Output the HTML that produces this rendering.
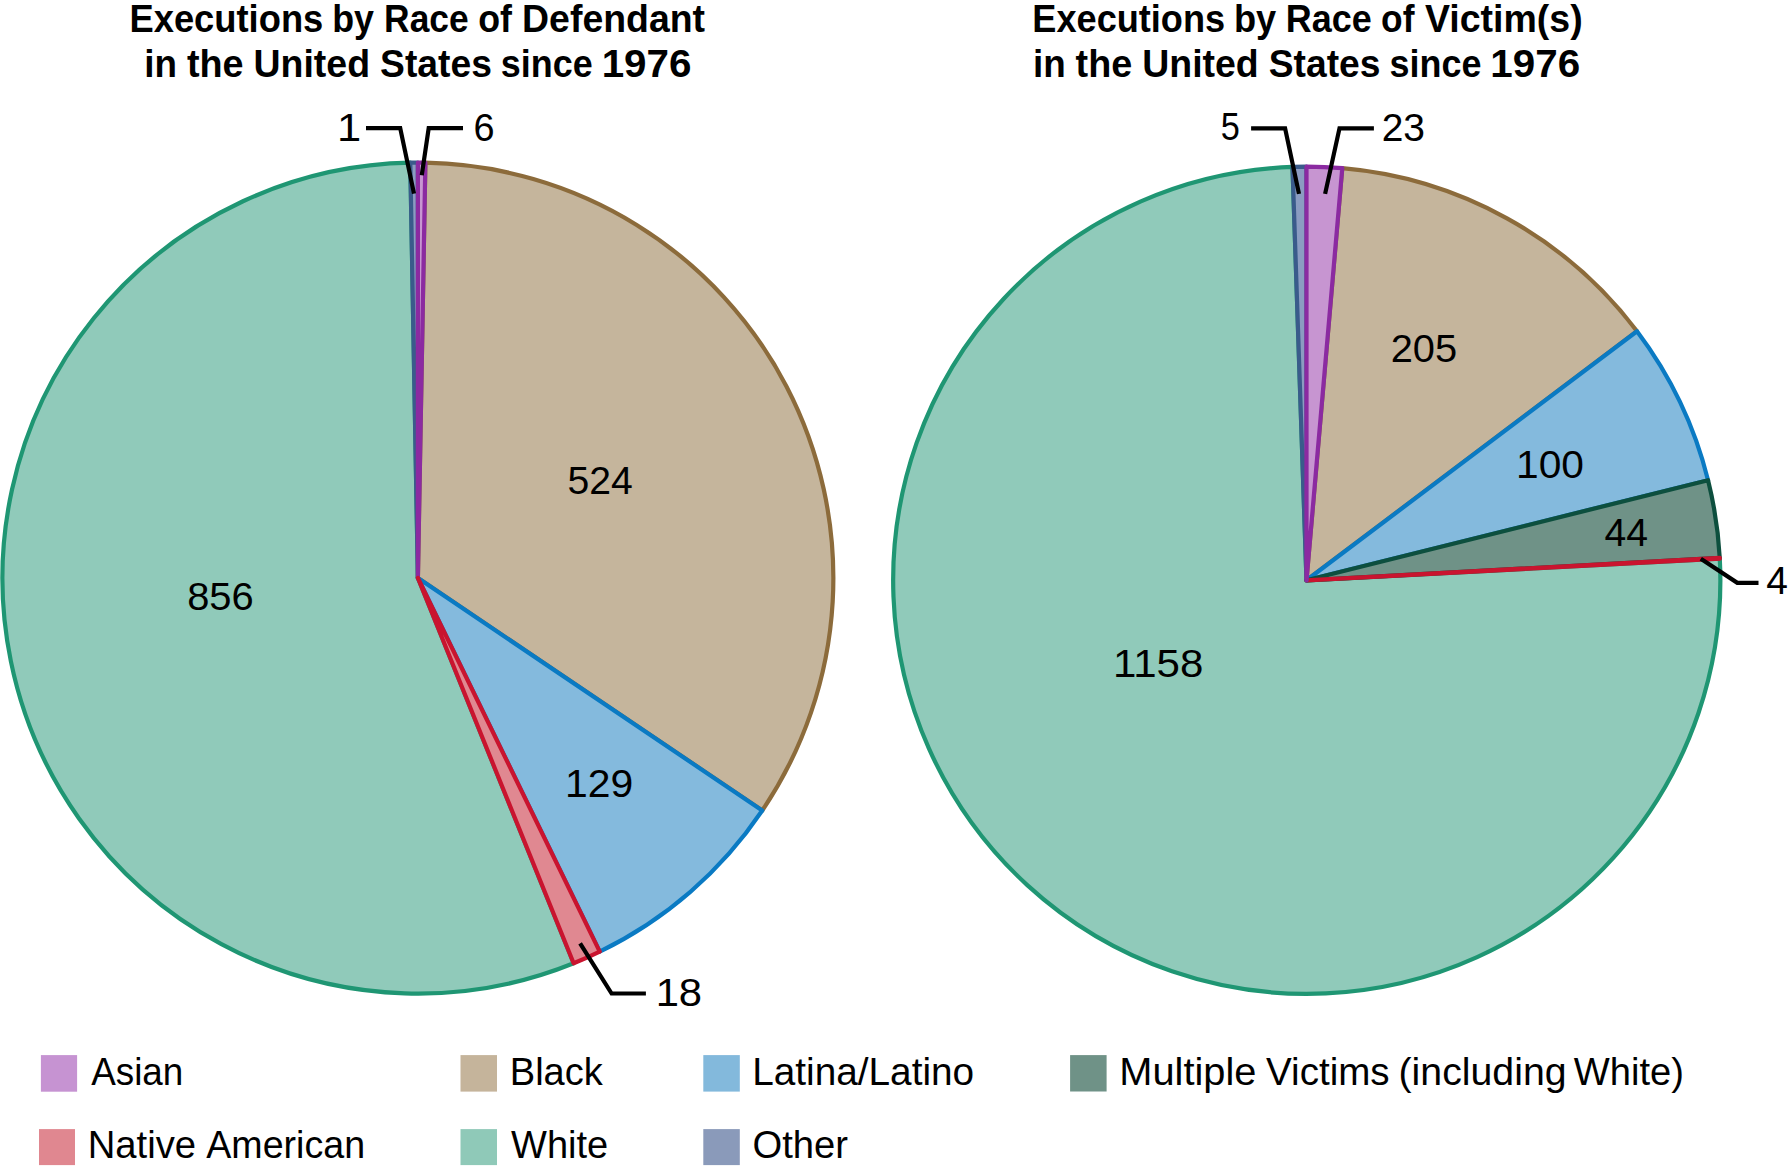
<!DOCTYPE html>
<html lang="en"><head><meta charset="utf-8"><title>Executions by Race</title>
<style>
html,body{margin:0;padding:0;background:#fff;}
svg{display:block;}
text{font-family:"Liberation Sans",sans-serif;fill:#000;}
</style></head><body>
<svg width="1789" height="1168" viewBox="0 0 1789 1168">
<path d="M417.90,578.00 L573.63,963.26 A415.45,415.45 0 1 1 410.29,162.72 Z" fill="#90CABA" stroke="#1F9673" stroke-width="4.2" stroke-linejoin="round"/>
<path d="M417.90,578.00 L425.37,162.72 A415.45,415.45 0 0 1 762.25,810.53 Z" fill="#C5B59C" stroke="#8C6B3B" stroke-width="4.2" stroke-linejoin="round"/>
<path d="M417.90,578.00 L762.25,810.53 A415.45,415.45 0 0 1 599.73,951.64 Z" fill="#84BADD" stroke="#0A7AC3" stroke-width="4.2" stroke-linejoin="round"/>
<path d="M417.90,578.00 L410.29,162.72 A415.45,415.45 0 0 1 417.90,162.65 Z" fill="#8B9CC1" stroke="#3A5B8B" stroke-width="4.2" stroke-linejoin="round"/>
<path d="M417.90,578.00 L417.90,162.65 A415.45,415.45 0 0 1 425.37,162.72 Z" fill="#C795D1" stroke="#8B2AA1" stroke-width="4.2" stroke-linejoin="round"/>
<path d="M417.90,578.00 L599.73,951.64 A415.45,415.45 0 0 1 573.63,963.26 Z" fill="#E08891" stroke="#C9142F" stroke-width="4.2" stroke-linejoin="round"/>
<path d="M1306.50,580.30 L1719.79,558.64 A413.60,413.60 0 1 1 1292.50,166.90 Z" fill="#90CABA" stroke="#1F9673" stroke-width="4.2" stroke-linejoin="round"/>
<path d="M1306.50,580.30 L1342.27,168.18 A413.60,413.60 0 0 1 1637.00,331.25 Z" fill="#C5B59C" stroke="#8C6B3B" stroke-width="4.2" stroke-linejoin="round"/>
<path d="M1306.50,580.30 L1637.00,331.25 A413.60,413.60 0 0 1 1708.06,480.18 Z" fill="#84BADD" stroke="#0A7AC3" stroke-width="4.2" stroke-linejoin="round"/>
<path d="M1306.50,580.30 L1708.06,480.18 A413.60,413.60 0 0 1 1719.75,557.92 Z" fill="#6F9287" stroke="#0D4F3E" stroke-width="4.2" stroke-linejoin="round"/>
<path d="M1306.50,580.30 L1719.75,557.92 A413.60,413.60 0 0 1 1719.79,558.64 Z" fill="#E08891" stroke="#C9142F" stroke-width="4.2" stroke-linejoin="round"/>
<path d="M1306.50,580.30 L1292.50,166.90 A413.60,413.60 0 0 1 1306.50,166.65 Z" fill="#8B9CC1" stroke="#3A5B8B" stroke-width="4.2" stroke-linejoin="round"/>
<path d="M1306.50,580.30 L1306.50,166.65 A413.60,413.60 0 0 1 1342.27,168.18 Z" fill="#C795D1" stroke="#8B2AA1" stroke-width="4.2" stroke-linejoin="round"/>
<path d="M366.00,128.07 L400.20,128.07 L414.00,193.56" fill="none" stroke="#000" stroke-width="4.2" stroke-linejoin="miter" stroke-miterlimit="10"/>
<path d="M463.00,128.07 L428.70,128.07 L421.75,175.25" fill="none" stroke="#000" stroke-width="4.2" stroke-linejoin="miter" stroke-miterlimit="10"/>
<path d="M580.10,943.40 L611.60,993.50 L645.90,993.50" fill="none" stroke="#000" stroke-width="4.2" stroke-linejoin="miter" stroke-miterlimit="10"/>
<path d="M1251.10,128.35 L1285.10,128.35 L1299.00,193.90" fill="none" stroke="#000" stroke-width="4.2" stroke-linejoin="miter" stroke-miterlimit="10"/>
<path d="M1373.90,128.35 L1339.50,128.35 L1325.10,193.90" fill="none" stroke="#000" stroke-width="4.2" stroke-linejoin="miter" stroke-miterlimit="10"/>
<path d="M1700.80,558.70 L1737.30,582.80 L1758.50,582.80" fill="none" stroke="#000" stroke-width="4.2" stroke-linejoin="miter" stroke-miterlimit="10"/>
<rect x="40.9" y="1055.1" width="36.2" height="36.6" fill="#C693D2"/>
<rect x="39.0" y="1129.1" width="36.0" height="36.0" fill="#E08790"/>
<rect x="460.5" y="1055.1" width="36.5" height="36.5" fill="#C5B49B"/>
<rect x="460.5" y="1129.1" width="36.5" height="36.0" fill="#8FC9B8"/>
<rect x="703.3" y="1055.1" width="36.5" height="36.5" fill="#83B9DC"/>
<rect x="703.3" y="1129.1" width="36.5" height="36.0" fill="#8A9ABA"/>
<rect x="1070.1" y="1055.1" width="36.5" height="36.4" fill="#6F9287"/>
<text y="32.20" font-size="39.5" font-weight="bold"><tspan x="129.44" textLength="193.88" lengthAdjust="spacingAndGlyphs">Executions</tspan> <tspan x="332.17" textLength="41.77" lengthAdjust="spacingAndGlyphs">by</tspan> <tspan x="384.10" textLength="84.60" lengthAdjust="spacingAndGlyphs">Race</tspan> <tspan x="478.15" textLength="33.78" lengthAdjust="spacingAndGlyphs">of</tspan> <tspan x="522.07" textLength="183.03" lengthAdjust="spacingAndGlyphs">Defendant</tspan></text>
<text y="76.90" font-size="39.5" font-weight="bold"><tspan x="144.31" textLength="32.74" lengthAdjust="spacingAndGlyphs">in</tspan> <tspan x="186.92" textLength="56.65" lengthAdjust="spacingAndGlyphs">the</tspan> <tspan x="253.55" textLength="116.51" lengthAdjust="spacingAndGlyphs">United</tspan> <tspan x="380.07" textLength="111.78" lengthAdjust="spacingAndGlyphs">States</tspan> <tspan x="500.84" textLength="91.88" lengthAdjust="spacingAndGlyphs">since</tspan> <tspan x="601.68" textLength="89.78" lengthAdjust="spacingAndGlyphs">1976</tspan></text>
<text y="32.20" font-size="39.5" font-weight="bold"><tspan x="1032.35" textLength="192.75" lengthAdjust="spacingAndGlyphs">Executions</tspan> <tspan x="1233.94" textLength="42.30" lengthAdjust="spacingAndGlyphs">by</tspan> <tspan x="1285.86" textLength="85.96" lengthAdjust="spacingAndGlyphs">Race</tspan> <tspan x="1381.06" textLength="33.37" lengthAdjust="spacingAndGlyphs">of</tspan> <tspan x="1425.01" textLength="157.69" lengthAdjust="spacingAndGlyphs">Victim(s)</tspan></text>
<text y="76.90" font-size="39.5" font-weight="bold"><tspan x="1033.01" textLength="32.74" lengthAdjust="spacingAndGlyphs">in</tspan> <tspan x="1075.62" textLength="56.65" lengthAdjust="spacingAndGlyphs">the</tspan> <tspan x="1142.25" textLength="116.51" lengthAdjust="spacingAndGlyphs">United</tspan> <tspan x="1268.77" textLength="111.78" lengthAdjust="spacingAndGlyphs">States</tspan> <tspan x="1389.54" textLength="91.88" lengthAdjust="spacingAndGlyphs">since</tspan> <tspan x="1490.38" textLength="89.78" lengthAdjust="spacingAndGlyphs">1976</tspan></text>
<text y="1084.60" font-size="38.6"><tspan x="91.20" textLength="92.15" lengthAdjust="spacingAndGlyphs">Asian</tspan></text>
<text y="1157.90" font-size="38.6"><tspan x="87.64" textLength="108.43" lengthAdjust="spacingAndGlyphs">Native</tspan> <tspan x="206.30" textLength="158.80" lengthAdjust="spacingAndGlyphs">American</tspan></text>
<text y="1084.60" font-size="38.6"><tspan x="509.76" textLength="93.05" lengthAdjust="spacingAndGlyphs">Black</tspan></text>
<text y="1157.90" font-size="38.6"><tspan x="511.10" textLength="97.16" lengthAdjust="spacingAndGlyphs">White</tspan></text>
<text y="1084.60" font-size="38.6"><tspan x="752.20" textLength="222.00" lengthAdjust="spacingAndGlyphs">Latina/Latino</tspan></text>
<text y="1157.90" font-size="38.6"><tspan x="752.48" textLength="95.52" lengthAdjust="spacingAndGlyphs">Other</tspan></text>
<text y="1084.60" font-size="38.6"><tspan x="1119.32" textLength="137.12" lengthAdjust="spacingAndGlyphs">Multiple</tspan> <tspan x="1266.10" textLength="123.55" lengthAdjust="spacingAndGlyphs">Victims</tspan> <tspan x="1398.54" textLength="168.06" lengthAdjust="spacingAndGlyphs">(including</tspan> <tspan x="1573.80" textLength="110.21" lengthAdjust="spacingAndGlyphs">White)</tspan></text>
<text y="140.70" font-size="37.9"><tspan x="337.04" textLength="24.16" lengthAdjust="spacingAndGlyphs">1</tspan></text>
<text y="141.10" font-size="37.9"><tspan x="473.51" textLength="21.05" lengthAdjust="spacingAndGlyphs">6</tspan></text>
<text y="493.80" font-size="37.9"><tspan x="567.53" textLength="65.29" lengthAdjust="spacingAndGlyphs">524</tspan></text>
<text y="609.50" font-size="37.9"><tspan x="187.20" textLength="66.54" lengthAdjust="spacingAndGlyphs">856</tspan></text>
<text y="797.00" font-size="37.9"><tspan x="565.03" textLength="68.26" lengthAdjust="spacingAndGlyphs">129</tspan></text>
<text y="1005.80" font-size="37.9"><tspan x="655.67" textLength="46.45" lengthAdjust="spacingAndGlyphs">18</tspan></text>
<text y="140.40" font-size="37.9"><tspan x="1220.83" textLength="19.08" lengthAdjust="spacingAndGlyphs">5</tspan></text>
<text y="140.50" font-size="37.9"><tspan x="1381.65" textLength="43.35" lengthAdjust="spacingAndGlyphs">23</tspan></text>
<text y="361.90" font-size="37.9"><tspan x="1390.71" textLength="66.43" lengthAdjust="spacingAndGlyphs">205</tspan></text>
<text y="477.70" font-size="37.9"><tspan x="1516.05" textLength="67.93" lengthAdjust="spacingAndGlyphs">100</tspan></text>
<text y="546.00" font-size="37.9"><tspan x="1604.52" textLength="43.51" lengthAdjust="spacingAndGlyphs">44</tspan></text>
<text y="593.80" font-size="37.9"><tspan x="1766.27" textLength="21.65" lengthAdjust="spacingAndGlyphs">4</tspan></text>
<text y="676.50" font-size="37.9"><tspan x="1112.90" textLength="90.43" lengthAdjust="spacingAndGlyphs">1158</tspan></text>
</svg>
</body></html>
